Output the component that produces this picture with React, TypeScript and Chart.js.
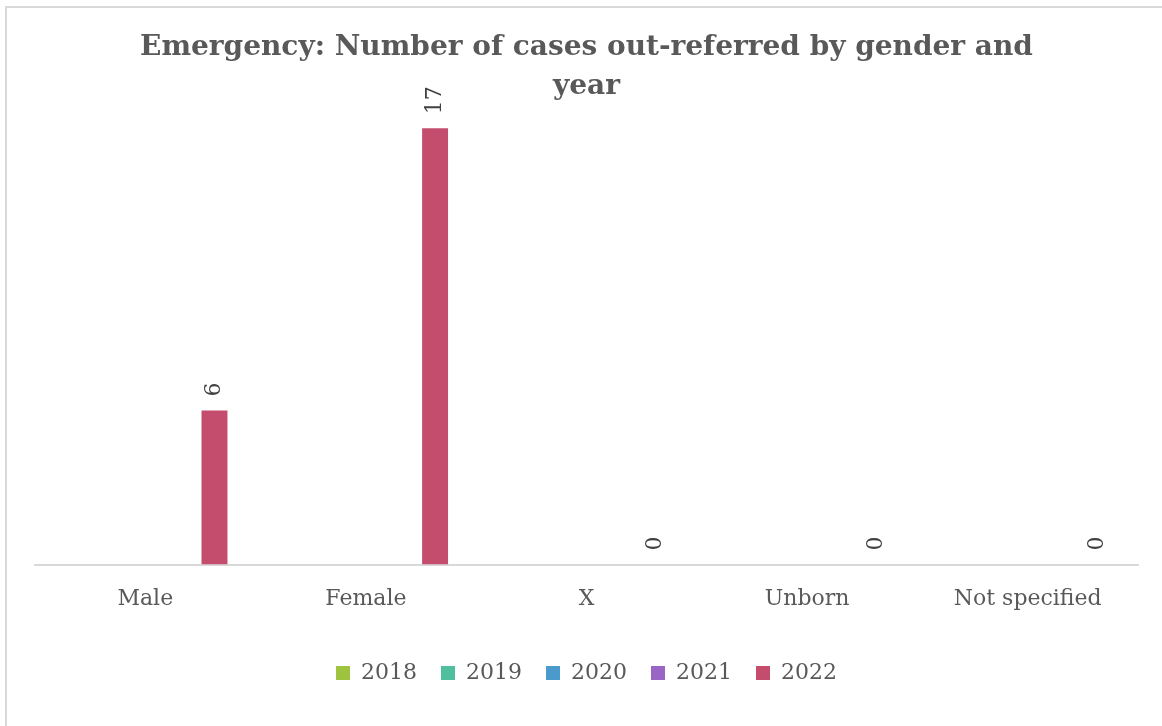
import React, { useEffect, useRef } from "react";
import { Chart, registerables } from "chart.js";

Chart.register(...registerables);

const categories = ["Male", "Female", "X", "Unborn", "Not specified"];
const years = ["2018", "2019", "2020", "2021", "2022"];
const values2018: (number | null)[] = [null, null, null, null, null];
const values2019: (number | null)[] = [null, null, null, null, null];
const values2020: (number | null)[] = [null, null, null, null, null];
const values2021: (number | null)[] = [null, null, null, null, null];
const values2022: (number | null)[] = [6, 17, 0, 0, 0];
const colors = ["#9DC33F", "#4FBFA0", "#4A9ACB", "#9966C6", "#C44D6E"];
const titleLines = ["Emergency: Number of cases out-referred by gender and", "year"];

const FONT = "'DejaVu Serif', serif";
const GRAY = "#595959";

const labelPlugin = {
  id: "rotatedLabels",
  afterDatasetsDraw(chart: any) {
    const ctx = chart.ctx;
    chart.data.datasets.forEach((ds: any, di: number) => {
      const meta = chart.getDatasetMeta(di);
      meta.data.forEach((el: any, i: number) => {
        const v = ds.data[i];
        if (v === null || v === undefined) return;
        ctx.save();
        ctx.translate(el.x, el.y - 14);
        ctx.rotate(-Math.PI / 2);
        ctx.font = `22px ${FONT}`;
        ctx.fillStyle = "#404040";
        ctx.textAlign = "left";
        ctx.textBaseline = "middle";
        ctx.fillText(String(v), 0, 0);
        ctx.restore();
      });
    });
  },
};

export default function App() {
  const ref = useRef<HTMLCanvasElement>(null);
  useEffect(() => {
    if (!ref.current) return;
    const series = [values2018, values2019, values2020, values2021, values2022];
    const chart = new Chart(ref.current, {
      type: "bar",
      data: {
        labels: categories,
        datasets: years.map((y, i) => ({
          label: y,
          data: series[i],
          backgroundColor: colors[i],
          borderWidth: 0,
          categoryPercentage: 0.784,
          barPercentage: 0.75,
        })),
      },
      options: {
        responsive: false,
        animation: false,
        layout: { padding: { left: 35, right: 24, top: 28, bottom: 32 } },
        plugins: {
          title: {
            display: true,
            text: titleLines,
            color: GRAY,
            font: { family: FONT, size: 28, weight: "bold", lineHeight: 1.4 },
            padding: { top: 0, bottom: 0 },
          },
          legend: {
            position: "bottom",
            labels: {
              boxWidth: 14,
              boxHeight: 14,
              color: GRAY,
              font: { family: FONT, size: 22 },
              padding: 24,
            },
          },
          tooltip: { enabled: false },
        },
        scales: {
          x: {
            grid: { display: false },
            border: { color: "#D9D9D9", width: 2 },
            ticks: { color: GRAY, font: { family: FONT, size: 22 }, padding: 13 },
            afterFit: (s: any) => {
              s.height += 13;
            },
          },
          y: { display: false, min: 0, max: 17.85 },
        },
      },
      plugins: [labelPlugin],
    });
    return () => chart.destroy();
  }, []);
  return (
    <div
      style={{
        position: "fixed",
        left: 0,
        top: 0,
        width: 1162,
        height: 726,
        background: "#fff",
        overflow: "hidden",
      }}
    >
      <div
        style={{
          position: "absolute",
          left: 5,
          top: 6,
          width: 1300,
          height: 900,
          borderTop: "2px solid #D9D9D9",
          borderLeft: "2px solid #D9D9D9",
          boxSizing: "border-box",
        }}
      />
      <canvas ref={ref} width={1162} height={726} style={{ position: "absolute", left: 0, top: 0 }} />
    </div>
  );
}
